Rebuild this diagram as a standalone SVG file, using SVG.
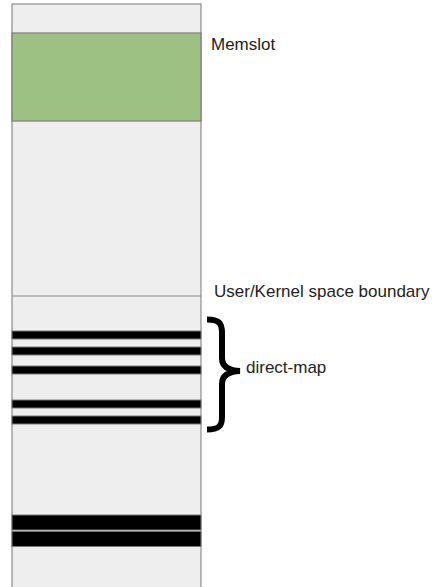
<svg xmlns="http://www.w3.org/2000/svg" width="434" height="587" viewBox="0 0 434 587">
<style>
.col{fill:#eeeeee;stroke:#8c8c8c;stroke-width:1.2}
.bar{fill:#000;stroke:#7a7a7a;stroke-width:1}
.lbl{font-family:"Liberation Sans",Arial,sans-serif;font-size:17px;fill:#222}
</style>
<rect width="434" height="587" fill="#ffffff"/>
<g id="column">
<rect class="col" x="12" y="4" width="189" height="600"/>
<line x1="12" y1="296" x2="201" y2="296" stroke="#8c8c8c" stroke-width="1.2"/>
</g>
<g id="memslot">
<rect x="12" y="33" width="189" height="88" fill="#9dc183" stroke="#7d7d7d" stroke-width="1.2"/>
<text class="lbl" x="211" y="50">Memslot</text>
</g>
<g id="boundary">
<text class="lbl" x="214" y="297">User/Kernel space boundary</text>
</g>
<g id="bars">
<rect class="bar" x="12" y="331" width="189" height="8"/>
<rect class="bar" x="12" y="347" width="189" height="8"/>
<rect class="bar" x="12" y="366" width="189" height="8"/>
<rect class="bar" x="12" y="400" width="189" height="8"/>
<rect class="bar" x="12" y="416" width="189" height="8"/>
<rect class="bar" x="12" y="515" width="189" height="15"/>
<rect class="bar" x="12" y="531.5" width="189" height="15"/>
</g>
<g id="direct-map">
<path d="M207,319.5 C219,319.5 222,323 222,333 L222,358 C222,366 228,370.5 240,371 C228,371.5 222,376 222,384 L222,417 C222,426 219,429.5 207,429.5" fill="none" stroke="#000" stroke-width="6"/>
<text class="lbl" x="246" y="373">direct-map</text>
</g>
</svg>
